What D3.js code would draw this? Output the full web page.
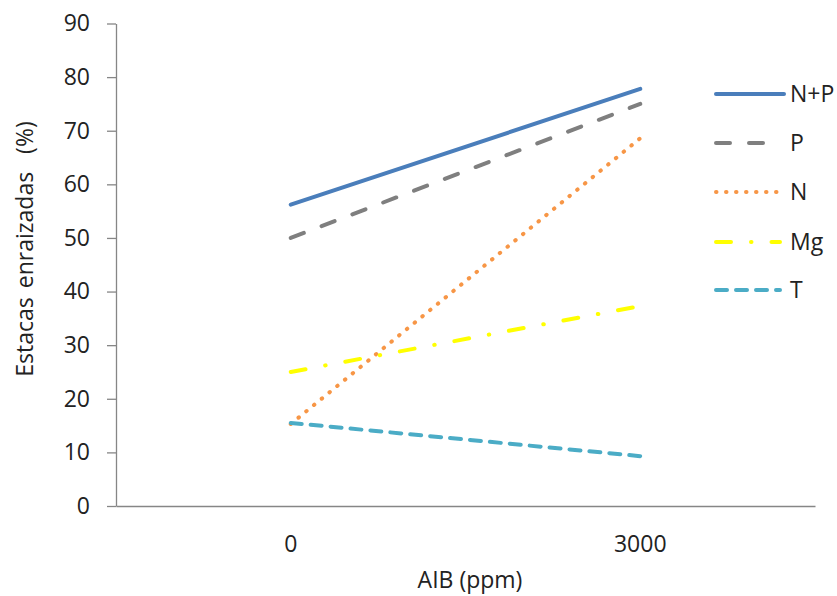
<!DOCTYPE html>
<html>
<head>
<meta charset="utf-8">
<script src="https://cdn.jsdelivr.net/npm/d3@7"></script>
<style>
  body { margin: 0; background: #fff; }
  text { font-family: "Open Sans", "Noto Sans", sans-serif; fill: #222; }
</style>
</head>
<body>
<script>
// Chart data
const categories = ["0", "3000"];
const seriesNames = ["N+P", "P", "N", "Mg", "T"];
const valuesNP = [56.2, 77.8];
const valuesP = [50, 75];
const valuesN = [15.3, 68.6];
const valuesMg = [25, 37.3];
const valuesT = [15.5, 9.3];
const yTicks = [0, 10, 20, 30, 40, 50, 60, 70, 80, 90];

const seriesValues = [valuesNP, valuesP, valuesN, valuesMg, valuesT];
const colors = ["#4a7ebb", "#7f7f7f", "#f79646", "#ffff00", "#4bacc6"];
const dashes = [null, "14,19", "0.5,9.5", "15,20,0.5,20", "11,9"];

const width = 837;
const height = 596;
const margin = { top: 23.5, right: 22, bottom: 90, left: 116 };
const plotRight = 815;
const fontSize = 23;

const svg = d3.select("body")
  .append("svg")
  .attr("width", width)
  .attr("height", height);

const xScale = d3.scaleBand()
  .domain(categories)
  .range([margin.left, plotRight]);

const yScale = d3.scaleLinear()
  .domain([0, 90])
  .range([height - margin.bottom, margin.top]);

// Y axis
const yAxis = svg.append("g")
  .attr("transform", `translate(${margin.left},0)`)
  .call(d3.axisLeft(yScale).tickValues(yTicks).tickSize(9).tickSizeOuter(0).tickPadding(17));
yAxis.selectAll("path, line").attr("stroke", "#868686").attr("stroke-width", 1.3);
yAxis.selectAll("text").attr("font-size", fontSize).attr("fill", "#222")
  .style("font-family", "'Open Sans', 'Noto Sans', sans-serif");

// X axis
const xAxis = svg.append("g")
  .attr("transform", `translate(0,${yScale(0)})`)
  .call(d3.axisBottom(xScale).tickSize(0).tickPadding(30));
xAxis.select("path").attr("stroke", "#868686").attr("stroke-width", 1.3);
xAxis.selectAll("text").attr("font-size", fontSize).attr("fill", "#222")
  .style("font-family", "'Open Sans', 'Noto Sans', sans-serif");

// Axis titles
svg.append("text")
  .attr("x", 470)
  .attr("y", 588)
  .attr("text-anchor", "middle")
  .attr("font-size", fontSize)
  .text("AIB (ppm)");

svg.append("text")
  .attr("transform", "translate(33,249) rotate(-90)")
  .attr("text-anchor", "middle")
  .attr("font-size", fontSize)
  .attr("word-spacing", 3)
  .style("white-space", "pre")
  .text("Estacas enraizadas  (%)");

// Lines
const line = d3.line()
  .x((d, i) => xScale(categories[i]) + xScale.bandwidth() / 2)
  .y(d => yScale(d));

seriesValues.forEach((vals, i) => {
  svg.append("path")
    .datum(vals)
    .attr("fill", "none")
    .attr("stroke", colors[i])
    .attr("stroke-width", 4)
    .attr("stroke-linecap", "round")
    .attr("stroke-dasharray", dashes[i])
    .attr("d", line);
});

// Legend
const legendY = [94, 143, 192, 242, 290];
seriesNames.forEach((name, i) => {
  svg.append("line")
    .attr("x1", 716).attr("x2", dashes[i] ? 780 : 784)
    .attr("y1", legendY[i]).attr("y2", legendY[i])
    .attr("stroke", colors[i])
    .attr("stroke-width", 4)
    .attr("stroke-linecap", "round")
    .attr("stroke-dasharray", dashes[i]);
  svg.append("text")
    .attr("x", 790)
    .attr("y", legendY[i])
    .attr("dy", "0.35em")
    .attr("font-size", fontSize)
    .text(name);
});
</script>
</body>
</html>
